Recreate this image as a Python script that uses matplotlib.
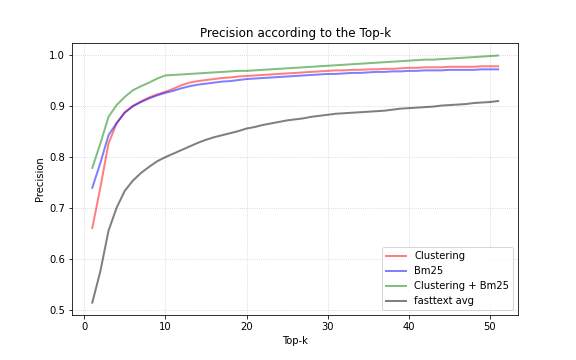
import matplotlib
matplotlib.use("Agg")
import matplotlib.pyplot as plt

k = list(range(1, 52))

clustering = [0.660, 0.740, 0.826, 0.865, 0.887, 0.899, 0.908, 0.916, 0.922, 0.927,
              0.933, 0.940, 0.945, 0.948, 0.950, 0.952, 0.954, 0.955, 0.957, 0.958,
              0.959, 0.960, 0.961, 0.962, 0.963, 0.964, 0.965, 0.966, 0.967, 0.968,
              0.969, 0.969, 0.970, 0.970, 0.971, 0.971, 0.972, 0.972, 0.973, 0.974,
              0.974, 0.975, 0.975, 0.975, 0.976, 0.976, 0.976, 0.976, 0.977, 0.977,
              0.977]

bm25 = [0.739, 0.788, 0.842, 0.866, 0.886, 0.899, 0.907, 0.914, 0.920, 0.925,
        0.929, 0.934, 0.938, 0.941, 0.943, 0.945, 0.947, 0.948, 0.950, 0.952,
        0.953, 0.954, 0.955, 0.956, 0.957, 0.958, 0.959, 0.960, 0.961, 0.962,
        0.962, 0.963, 0.964, 0.964, 0.965, 0.966, 0.966, 0.967, 0.967, 0.968,
        0.968, 0.969, 0.969, 0.969, 0.970, 0.970, 0.970, 0.970, 0.971, 0.971,
        0.971]

clustering_bm25 = [0.778, 0.826, 0.878, 0.901, 0.917, 0.930, 0.938, 0.945, 0.953, 0.959,
                   0.960, 0.961, 0.962, 0.963, 0.964, 0.965, 0.966, 0.967, 0.968, 0.968,
                   0.969, 0.970, 0.971, 0.972, 0.973, 0.974, 0.975, 0.976, 0.977, 0.978,
                   0.979, 0.980, 0.981, 0.982, 0.983, 0.984, 0.985, 0.986, 0.987, 0.988,
                   0.989, 0.990, 0.990, 0.991, 0.992, 0.993, 0.994, 0.995, 0.996, 0.997,
                   0.998]

fasttext_avg = [0.514, 0.576, 0.655, 0.700, 0.733, 0.753, 0.768, 0.780, 0.791, 0.799,
                0.806, 0.813, 0.820, 0.827, 0.833, 0.838, 0.842, 0.846, 0.850, 0.855,
                0.858, 0.862, 0.865, 0.868, 0.871, 0.873, 0.875, 0.878, 0.880, 0.882,
                0.884, 0.885, 0.886, 0.887, 0.888, 0.889, 0.890, 0.892, 0.894, 0.895,
                0.896, 0.897, 0.898, 0.900, 0.901, 0.902, 0.903, 0.905, 0.906, 0.907,
                0.909]

labels = ["Clustering", "Bm25", "Clustering + Bm25", "fasttext avg"]
colors = ["red", "blue", "green", "black"]
series = [clustering, bm25, clustering_bm25, fasttext_avg]

fig, ax = plt.subplots(figsize=(8, 5), dpi=72)
fig.subplots_adjust(left=0.125, right=0.9, top=0.88, bottom=0.125)
for s, lab, c in zip(series, labels, colors):
    ax.plot(k, s, color=c, alpha=0.5, linewidth=2, label=lab)
ax.grid(True, linestyle=":", color="#cccccc", linewidth=0.8)
ax.set_title("Precision according to the Top-k")
ax.set_xlabel("Top-k")
ax.set_ylabel("Precision")
ax.legend(loc="lower right")
fig.savefig("out.png", dpi=72)
